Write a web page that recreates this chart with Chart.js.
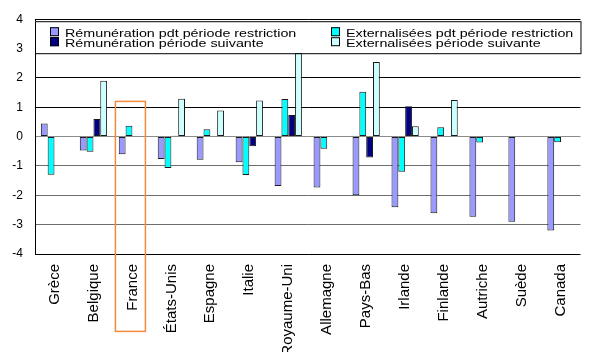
<!DOCTYPE html>
<html>
<head>
<meta charset="utf-8">
<script src="https://cdn.jsdelivr.net/npm/chart.js@4.4.1/dist/chart.umd.min.js"></script>
<style>
  html, body { margin: 0; padding: 0; background: #fff; overflow: hidden; }
  canvas { display: block; }
</style>
</head>
<body>
<canvas id="chart" width="589" height="352"></canvas>
<script>
// Pays
const countries = ['Grèce', 'Belgique', 'France', 'États-Unis', 'Espagne', 'Italie', 'Royaume-Uni',
  'Allemagne', 'Pays-Bas', 'Irlande', 'Finlande', 'Autriche', 'Suède', 'Canada'];

// Séries
const seriesNames = [
  'Rémunération pdt période restriction',
  'Externalisées pdt période restriction',
  'Rémunération période suivante',
  'Externalisées période suivante'
];
const remPendant   = [0.45, -0.47, -0.6, -0.76, -0.79, -0.87, -1.68, -1.73, -2.0, -2.41, -2.61, -2.73, -2.9, -3.2];
const extPendant   = [-1.3, -0.52, 0.37, -1.07, 0.25, -1.31, 1.28, -0.41, 1.53, -1.2, 0.32, -0.2, null, -0.19];
const remSuivante  = [null, 0.6, null, 0.03, 0.02, -0.33, 0.74, null, -0.71, 1.03, 0.02, null, null, null];
const extSuivante  = [null, 1.9, null, 1.29, 0.89, 1.23, 2.85, null, 2.54, 0.35, 1.25, null, null, null];

// Graduations de l'axe vertical
const yTickValues = [-4, -3, -2, -1, 0, 1, 2, 3, 4];

const seriesColors = ['#9999FF', '#00FFFF', '#000080', '#CCFFFF'];
const FONT = '"Liberation Sans", Arial, Helvetica, sans-serif';

// Legend drawn as a boxed band across the top of the plot, two columns
const boxLegend = {
  id: 'boxLegend',
  afterDatasetsDraw(chart) {
    const { ctx, chartArea: a } = chart;
    ctx.save();
    ctx.fillStyle = '#fff';
    ctx.fillRect(a.left, a.top + 2, a.right - a.left, 32);
    ctx.strokeStyle = '#000';
    ctx.lineWidth = 1;
    ctx.strokeRect(a.left + 0.5, a.top + 2.5, a.right - a.left, 32);
    const cols = [a.left + 15, a.left + 296];
    chart.data.datasets.forEach((ds, i) => {
      const x = cols[i % 2];
      const y = a.top + 8 + Math.floor(i / 2) * 10;
      ctx.fillStyle = ds.backgroundColor;
      ctx.fillRect(x, y, 9, 9);
      ctx.strokeStyle = '#000';
      ctx.strokeRect(x + 0.5, y + 0.5, 8, 8);
      ctx.save();
      ctx.translate(x + 15, y + 10);
      ctx.scale(1.3, 1);
      ctx.fillStyle = '#000';
      ctx.font = '11px ' + FONT;
      ctx.textBaseline = 'alphabetic';
      ctx.fillText(ds.label, 0, 0);
      ctx.restore();
    });
    ctx.restore();
  }
};

// Orange frame around the France group and its label
const highlight = {
  id: 'highlight',
  afterDraw(chart) {
    const { ctx } = chart;
    const x = chart.scales.x.getPixelForValue(countries.indexOf('France'));
    const y = chart.scales.y.getPixelForValue(1.2);
    ctx.save();
    ctx.strokeStyle = '#F68A3C';
    ctx.lineWidth = 1.5;
    ctx.strokeRect(x - 17, y, 30, 230);
    ctx.restore();
  }
};

const makeSet = (i, values) => ({
  label: seriesNames[i],
  data: values,
  backgroundColor: seriesColors[i],
  borderColor: '#1a1a1a',
  borderWidth: 1,
  borderSkipped: false,
  barPercentage: 1,
  categoryPercentage: 0.70
});

new Chart(document.getElementById('chart'), {
  type: 'bar',
  data: {
    labels: countries,
    datasets: [
      makeSet(0, remPendant),
      makeSet(1, extPendant),
      makeSet(2, remSuivante),
      makeSet(3, extSuivante)
    ]
  },
  options: {
    responsive: false,
    animation: false,
    devicePixelRatio: 1,
    layout: { padding: { top: 15, right: -7, left: 0, bottom: 0 } },
    plugins: {
      legend: { display: false },
      tooltip: { enabled: false }
    },
    scales: {
      x: {
        grid: { display: false, drawTicks: false },
        border: { display: false },
        ticks: {
          autoSkip: false,
          maxRotation: 90,
          minRotation: 90,
          padding: 10,
          color: '#000',
          font: { family: FONT, size: 15 }
        },
        afterFit(scale) { scale.height = 98; }
      },
      y: {
        min: -4,
        max: 4,
        afterBuildTicks(scale) { scale.ticks = yTickValues.map(v => ({ value: v })); },
        grid: {
          drawTicks: false,
          lineWidth: 1,
          color(ctx) {
            const v = ctx.tick.value;
            if (v === 0) return '#8c8c8c';
            if (v < 0 && v > -4) return '#6e6e6e';
            return '#000';
          }
        },
        border: { display: true, color: '#000', width: 1 },
        ticks: {
          padding: 12,
          color: '#000',
          font: { family: FONT, size: 12 }
        },
        afterFit(scale) { scale.width = 35; }
      }
    }
  },
  plugins: [boxLegend, highlight]
});
</script>
</body>
</html>
